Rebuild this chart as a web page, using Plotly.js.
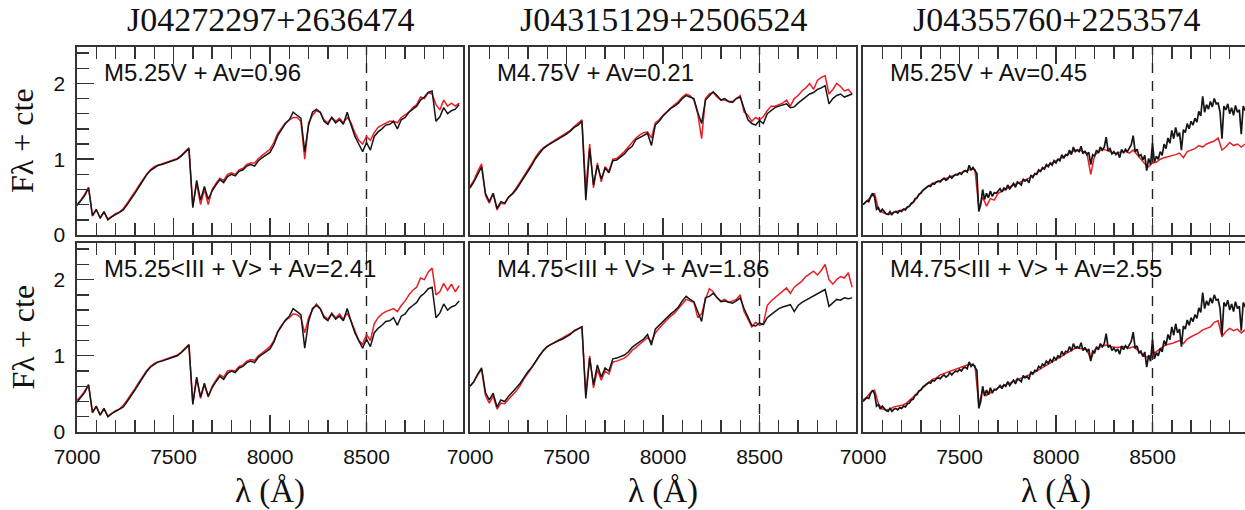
<!DOCTYPE html>
<html><head><meta charset="utf-8">
<script src="https://cdn.plot.ly/plotly-3.0.1.min.js"></script>
<style>html,body{margin:0;padding:0;overflow:hidden;background:#fff}#chart{width:1250px;height:510px}</style>
</head><body><div id="chart"></div><script>
// wavelength grids (Angstrom)
const lam20 = [
7000,7020,7040,7060,7080,7100,7120,7140,7160,7180,
7200,7220,7240,7260,7280,7300,7320,7340,7360,7380,
7400,7420,7440,7460,7480,7500,7520,7540,7560,7580,
7600,7620,7640,7660,7680,7700,7720,7740,7760,7780,
7800,7820,7840,7860,7880,7900,7920,7940,7960,7980,
8000,8020,8040,8060,8080,8100,8120,8140,8160,8180,
8200,8220,8240,8260,8280,8300,8320,8340,8360,8380,
8400,8420,8440,8460,8480,8500,8520,8540,8560,8580,
8600,8620,8640,8660,8680,8700,8720,8740,8760,8780,
8800,8820,8840,8860,8880,8900,8920,8940,8960,8980];
const lam10 = [
7000,7010,7020,7030,7040,7050,7060,7070,7080,7090,
7100,7110,7120,7130,7140,7150,7160,7170,7180,7190,
7200,7210,7220,7230,7240,7250,7260,7270,7280,7290,
7300,7310,7320,7330,7340,7350,7360,7370,7380,7390,
7400,7410,7420,7430,7440,7450,7460,7470,7480,7490,
7500,7510,7520,7530,7540,7550,7560,7570,7580,7590,
7600,7610,7620,7630,7640,7650,7660,7670,7680,7690,
7700,7710,7720,7730,7740,7750,7760,7770,7780,7790,
7800,7810,7820,7830,7840,7850,7860,7870,7880,7890,
7900,7910,7920,7930,7940,7950,7960,7970,7980,7990,
8000,8010,8020,8030,8040,8050,8060,8070,8080,8090,
8100,8110,8120,8130,8140,8150,8160,8170,8180,8190,
8200,8210,8220,8230,8240,8250,8260,8270,8280,8290,
8300,8310,8320,8330,8340,8350,8360,8370,8380,8390,
8400,8410,8420,8430,8440,8450,8460,8470,8480,8490,
8500,8510,8520,8530,8540,8550,8560,8570,8580,8590,
8600,8610,8620,8630,8640,8650,8660,8670,8680,8690,
8700,8710,8720,8730,8740,8750,8760,8770,8780,8790,
8800,8810,8820,8830,8840,8850,8860,8870,8880,8890,
8900,8910,8920,8930,8940,8950,8960,8970,8980,8990];

// J04272297+2636474 observed (black)
const obs1 = [
0.39,0.45,0.52,0.62,0.26,0.34,0.22,0.31,0.20,0.24,
0.27,0.29,0.33,0.40,0.47,0.55,0.63,0.71,0.79,0.85,
0.89,0.92,0.93,0.95,0.96,0.98,1.00,1.04,1.09,1.14,
0.36,0.72,0.46,0.64,0.47,0.58,0.66,0.73,0.69,0.77,
0.80,0.78,0.84,0.86,0.91,0.93,0.91,0.98,1.02,1.05,
1.09,1.18,1.31,1.39,1.47,1.52,1.62,1.58,1.54,1.10,
1.45,1.62,1.66,1.62,1.50,1.46,1.55,1.48,1.52,1.46,
1.62,1.45,1.30,1.20,1.10,1.22,1.12,1.30,1.36,1.40,
1.45,1.46,1.50,1.40,1.52,1.55,1.62,1.66,1.70,1.78,
1.82,1.88,1.90,1.50,1.56,1.68,1.60,1.64,1.66,1.72];
// templates for J04272297 (red)
const tplM525V = [
0.40,0.46,0.54,0.63,0.25,0.33,0.23,0.30,0.21,0.25,
0.28,0.30,0.35,0.42,0.49,0.57,0.65,0.73,0.80,0.86,
0.90,0.92,0.94,0.95,0.97,0.99,1.01,1.05,1.10,1.15,
0.38,0.68,0.40,0.60,0.40,0.60,0.68,0.75,0.72,0.80,
0.82,0.80,0.86,0.88,0.93,0.95,0.95,1.01,1.05,1.09,
1.13,1.22,1.34,1.41,1.48,1.52,1.55,1.55,1.50,1.00,
1.48,1.58,1.64,1.62,1.52,1.48,1.55,1.50,1.54,1.48,
1.55,1.48,1.35,1.25,1.20,1.30,1.25,1.35,1.42,1.45,
1.47,1.50,1.50,1.48,1.55,1.58,1.62,1.68,1.72,1.82,
1.80,1.88,1.86,1.72,1.65,1.78,1.70,1.74,1.70,1.74];
const tplM525IIIV = [
0.42,0.47,0.54,0.62,0.25,0.33,0.23,0.30,0.21,0.25,
0.28,0.30,0.35,0.42,0.49,0.57,0.65,0.73,0.80,0.86,
0.90,0.92,0.94,0.95,0.97,0.99,1.01,1.05,1.10,1.15,
0.38,0.70,0.44,0.62,0.46,0.60,0.68,0.75,0.72,0.80,
0.81,0.80,0.86,0.88,0.93,0.95,0.94,1.00,1.04,1.08,
1.12,1.20,1.32,1.40,1.46,1.50,1.55,1.54,1.50,1.30,
1.50,1.60,1.68,1.62,1.52,1.48,1.56,1.50,1.55,1.48,
1.56,1.46,1.32,1.20,1.15,1.28,1.20,1.42,1.50,1.55,
1.58,1.60,1.62,1.58,1.66,1.72,1.80,1.86,1.90,2.02,
2.00,2.10,2.15,1.80,1.84,1.95,1.86,1.94,1.84,1.92];

// J04315129+2506524 observed (black), top and bottom normalisation
const obs2top = [
0.62,0.70,0.80,0.90,0.55,0.44,0.55,0.35,0.44,0.42,
0.50,0.54,0.60,0.68,0.76,0.83,0.92,1.01,1.08,1.14,
1.18,1.21,1.24,1.26,1.30,1.33,1.37,1.42,1.45,1.50,
0.46,1.14,0.66,0.92,0.74,0.88,0.82,0.98,0.99,1.03,
1.07,1.13,1.17,1.26,1.29,1.32,1.34,1.18,1.45,1.50,
1.57,1.62,1.67,1.70,1.74,1.80,1.84,1.82,1.80,1.62,
1.47,1.78,1.84,1.89,1.84,1.78,1.80,1.76,1.75,1.80,
1.82,1.68,1.52,1.47,1.45,1.51,1.47,1.60,1.64,1.68,
1.70,1.72,1.73,1.68,1.69,1.74,1.78,1.82,1.86,1.88,
1.92,1.94,1.97,1.73,1.80,1.84,1.86,1.82,1.84,1.86];
const obs2bot = [
0.60,0.66,0.76,0.84,0.52,0.42,0.51,0.33,0.42,0.40,
0.47,0.52,0.58,0.64,0.72,0.79,0.85,0.93,1.00,1.07,
1.12,1.15,1.18,1.20,1.22,1.25,1.28,1.33,1.35,1.38,
0.44,0.97,0.62,0.88,0.72,0.84,0.80,0.96,0.97,0.99,
1.01,1.05,1.11,1.15,1.19,1.22,1.28,1.14,1.35,1.40,
1.46,1.50,1.55,1.59,1.64,1.72,1.78,1.74,1.71,1.58,
1.45,1.76,1.78,1.82,1.76,1.71,1.72,1.70,1.69,1.72,
1.76,1.62,1.50,1.40,1.39,1.43,1.41,1.50,1.54,1.58,
1.62,1.64,1.66,1.67,1.58,1.66,1.70,1.73,1.76,1.79,
1.82,1.85,1.87,1.65,1.70,1.74,1.73,1.76,1.75,1.76];
const tplM475V = [
0.64,0.72,0.84,0.94,0.52,0.42,0.55,0.33,0.42,0.41,
0.50,0.55,0.62,0.70,0.78,0.85,0.94,1.03,1.10,1.15,
1.19,1.22,1.25,1.28,1.31,1.35,1.38,1.43,1.47,1.52,
0.60,1.20,0.62,0.95,0.70,0.90,0.84,1.00,1.01,1.05,
1.10,1.16,1.22,1.28,1.32,1.35,1.36,1.28,1.48,1.52,
1.58,1.63,1.68,1.72,1.76,1.82,1.86,1.84,1.78,1.60,
1.27,1.80,1.86,1.88,1.82,1.78,1.78,1.76,1.76,1.80,
1.84,1.62,1.58,1.50,1.55,1.52,1.56,1.64,1.70,1.70,
1.72,1.74,1.78,1.70,1.80,1.84,1.90,1.94,2.00,1.92,
2.04,2.08,2.10,1.86,1.92,2.00,1.96,1.90,1.92,1.86];
const tplM475IIIV_b = [
0.60,0.66,0.75,0.82,0.48,0.38,0.47,0.30,0.38,0.37,
0.43,0.48,0.54,0.61,0.70,0.77,0.84,0.92,1.00,1.07,
1.12,1.15,1.18,1.20,1.23,1.26,1.29,1.33,1.36,1.38,
0.50,1.00,0.58,0.82,0.68,0.80,0.76,0.92,0.93,0.95,
0.97,1.01,1.07,1.11,1.15,1.19,1.24,1.18,1.30,1.36,
1.42,1.47,1.52,1.56,1.62,1.68,1.74,1.72,1.70,1.50,
1.55,1.74,1.88,1.84,1.76,1.72,1.74,1.70,1.72,1.74,
1.80,1.58,1.48,1.38,1.44,1.40,1.42,1.66,1.72,1.76,
1.80,1.84,1.89,1.82,1.90,1.94,1.98,2.04,2.08,2.11,
2.06,2.12,2.20,2.00,1.94,2.00,2.04,2.02,2.09,1.90];

// J04355760+2253574 observed (black, 10 A sampling)
const obs3 = [
0.40,0.43,0.45,0.44,0.51,0.55,0.50,0.34,0.36,0.30,
0.34,0.31,0.28,0.27,0.31,0.27,0.30,0.31,0.29,0.32,
0.31,0.34,0.33,0.37,0.38,0.42,0.43,0.48,0.49,0.54,
0.55,0.59,0.61,0.63,0.65,0.64,0.68,0.67,0.70,0.71,
0.70,0.73,0.75,0.72,0.74,0.78,0.75,0.78,0.80,0.79,
0.82,0.80,0.84,0.85,0.83,0.92,0.86,0.89,0.84,0.81,
0.31,0.40,0.60,0.47,0.55,0.49,0.58,0.51,0.56,0.55,
0.58,0.61,0.57,0.62,0.60,0.66,0.61,0.64,0.68,0.63,
0.70,0.68,0.66,0.74,0.71,0.73,0.69,0.79,0.76,0.81,
0.80,0.86,0.84,0.89,0.87,0.93,0.90,0.95,0.92,0.98,
0.95,1.00,0.98,1.06,1.01,1.06,1.05,1.12,1.06,1.16,
1.10,1.12,1.10,1.17,1.07,1.11,1.06,1.09,0.93,1.06,
1.04,1.12,1.08,1.16,1.12,1.16,1.29,1.11,1.14,1.07,
1.10,1.06,1.09,1.02,1.13,1.08,1.13,1.10,1.15,1.19,
1.31,1.10,1.13,1.04,1.06,0.99,1.05,0.85,1.01,0.93,
1.21,0.96,1.04,1.00,1.10,1.05,1.20,1.14,1.28,1.21,
1.38,1.27,1.42,1.30,1.35,1.12,1.39,1.35,1.47,1.40,
1.50,1.45,1.54,1.49,1.63,1.57,1.83,1.62,1.72,1.66,
1.76,1.69,1.80,1.73,1.74,1.62,1.27,1.70,1.65,1.73,
1.60,1.68,1.58,1.71,1.62,1.65,1.33,1.70,1.64,1.69];
const tplM525V_c = [
0.40,0.45,0.50,0.55,0.34,0.30,0.28,0.27,0.30,0.31,
0.33,0.35,0.38,0.43,0.50,0.56,0.61,0.65,0.68,0.70,
0.72,0.74,0.75,0.77,0.79,0.81,0.83,0.85,0.87,0.86,
0.36,0.50,0.38,0.48,0.46,0.55,0.58,0.60,0.63,0.66,
0.68,0.70,0.73,0.75,0.78,0.82,0.86,0.89,0.92,0.95,
0.98,1.01,1.04,1.07,1.10,1.12,1.12,1.10,1.08,0.80,
1.05,1.10,1.13,1.12,1.10,1.08,1.08,1.10,1.10,1.08,
1.12,1.06,1.00,0.94,0.90,0.95,0.96,1.00,1.02,1.03,
1.04,1.06,1.08,1.02,1.10,1.12,1.14,1.18,1.16,1.20,
1.22,1.24,1.28,1.12,1.16,1.22,1.18,1.20,1.16,1.20];
const tplM475IIIV_c = [
0.42,0.46,0.52,0.55,0.37,0.30,0.29,0.30,0.33,0.34,
0.35,0.37,0.41,0.46,0.51,0.56,0.61,0.65,0.69,0.71,
0.75,0.77,0.78,0.80,0.82,0.84,0.86,0.88,0.89,0.87,
0.36,0.55,0.48,0.52,0.55,0.58,0.60,0.63,0.65,0.67,
0.69,0.71,0.73,0.75,0.77,0.80,0.83,0.86,0.89,0.92,
0.95,0.98,1.01,1.04,1.07,1.10,1.10,1.09,1.08,0.95,
1.08,1.11,1.13,1.14,1.12,1.11,1.11,1.12,1.12,1.10,
1.12,1.08,1.03,0.99,0.98,1.02,1.06,1.10,1.13,1.15,
1.16,1.18,1.20,1.16,1.22,1.25,1.27,1.30,1.34,1.36,
1.38,1.44,1.46,1.25,1.32,1.36,1.33,1.35,1.30,1.34];

const objects = ["J04272297+2636474","J04315129+2506524","J04355760+2253574"];
const fitLabels = ["M5.25V + Av=0.96","M4.75V + Av=0.21","M5.25V + Av=0.45",
  "M5.25&lt;III + V&gt; + Av=2.41","M4.75&lt;III + V&gt; + Av=1.86","M4.75&lt;III + V&gt; + Av=2.55"];
const xTickVals = [7000,7500,8000,8500];
const yTickVals = [0,1,2];
const caTripletRef = 8500;

const panels = [
  {lamO: lam20, obs: obs1,    tpl: tplM525V},
  {lamO: lam20, obs: obs2top, tpl: tplM475V},
  {lamO: lam10, obs: obs3,    tpl: tplM525V_c},
  {lamO: lam20, obs: obs1,    tpl: tplM525IIIV},
  {lamO: lam20, obs: obs2bot, tpl: tplM475IIIV_b},
  {lamO: lam10, obs: obs3,    tpl: tplM475IIIV_c}
];

const W = 1250, H = 510;
const xDom = [[77/W, 463/W],[470/W, 856/W],[863/W, 1249/W]];
const yDom = [[1-235/H, 1-47/H],[1-432/H, 1-243/H]];
const RED = 'rgb(236,30,36)', BLK = '#151515', FRAME = '#333';
const sans = 'Liberation Sans, Arial, sans-serif', serif = 'Liberation Serif, Times New Roman, serif';

const traces = [];
const layout = {width: W, height: H, margin:{l:0,r:0,t:0,b:0}, showlegend:false,
  paper_bgcolor:'#fff', plot_bgcolor:'#fff', annotations:[], shapes:[]};

panels.forEach((p, i) => {
  const n = i + 1, sfx = n === 1 ? '' : String(n);
  const row = i < 3 ? 0 : 1, col = i % 3;
  traces.push({x: lam20, y: p.tpl, type:'scatter', mode:'lines', line:{color:RED, width:1.5}, xaxis:'x'+sfx, yaxis:'y'+sfx, hoverinfo:'skip'});
  traces.push({x: p.lamO, y: p.obs, type:'scatter', mode:'lines', line:{color:BLK, width: col === 2 ? 1.7 : 1.5}, xaxis:'x'+sfx, yaxis:'y'+sfx, hoverinfo:'skip'});
  layout['xaxis'+sfx] = {domain: xDom[col], range:[7000,9000], anchor:'y'+sfx,
    showgrid:false, zeroline:false, showline:true, linecolor:FRAME, linewidth:1.6, mirror:'ticks',
    ticks:'inside', ticklen:17, tickwidth:1.4, tickcolor:FRAME, tickmode:'array', tickvals: xTickVals,
    showticklabels: row === 1, tickfont:{family:sans, size:21, color:'#111'}, ticklabelstandoff: 5,
    minor:{dtick:100, tick0:7000, ticks:'inside', ticklen:12, tickwidth:1.4, tickcolor:FRAME, showgrid:false}};
  const yax = {domain: yDom[row], range:[0,2.48], anchor:'x'+sfx,
    showgrid:false, zeroline:false, showline:true, linecolor:FRAME, linewidth:1.6, mirror:true};
  if (col === 0) {
    Object.assign(yax, {ticks:'inside', ticklen:17, tickwidth:1.4, tickcolor:FRAME, tickmode:'array', tickvals:yTickVals,
      showticklabels:true, tickfont:{family:sans, size:21, color:'#111'}, ticklabelstandoff: 6,
      minor:{dtick:0.2, tick0:0, ticks:'inside', ticklen:12, tickwidth:1.4, tickcolor:FRAME, showgrid:false}});
  } else {
    Object.assign(yax, {ticks:'', showticklabels:false});
  }
  layout['yaxis'+sfx] = yax;
  layout.shapes.push({type:'line', xref:'x'+sfx, yref:'y'+sfx+' domain', x0:caTripletRef, x1:caTripletRef, y0:0, y1:1,
    line:{color:'#222', width:1.4, dash:'10px,8px'}, layer:'below'});
  layout.annotations.push({text: fitLabels[i], xref:'paper', yref:'paper', x: xDom[col][0] + 25/W,
    y: row === 0 ? 1-73/H : 1-268/H, xanchor:'left', yanchor:'middle', showarrow:false,
    font:{family:sans, size:24, color:'#111'}});
});

objects.forEach((name, c) => {
  const cx = (xDom[c][0] + xDom[c][1]) / 2;
  layout.annotations.push({text:name, xref:'paper', yref:'paper', x:cx, y:1-20/H, xanchor:'center', yanchor:'middle',
    showarrow:false, font:{family:serif, size:34, color:'#111'}});
  layout.annotations.push({text:'λ (Å)', xref:'paper', yref:'paper', x:cx, y:1-491/H, xanchor:'center', yanchor:'middle',
    showarrow:false, font:{family:serif, size:33, color:'#111'}});
});
[0,1].forEach(r => {
  layout.annotations.push({text:'Fλ + cte', xref:'paper', yref:'paper', x:22/W, y:(yDom[r][0]+yDom[r][1])/2,
    xanchor:'center', yanchor:'middle', textangle:-90, showarrow:false, font:{family:serif, size:32, color:'#111'}});
});

Plotly.newPlot('chart', traces, layout, {displayModeBar:false, staticPlot:true});
</script></body></html>
